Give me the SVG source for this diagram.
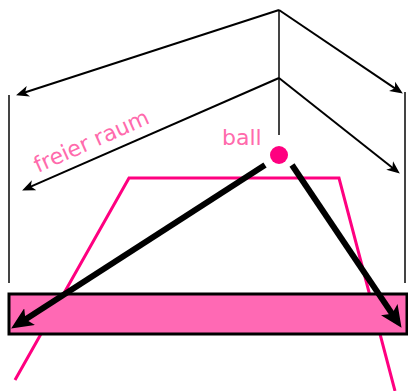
<svg xmlns="http://www.w3.org/2000/svg" width="408" height="391" viewBox="0 0 408 391">
<defs>
<style>
.thin{fill:none;stroke:#000;stroke-width:2;marker-end:url(#ah)}
.thick{fill:none;stroke:#000;stroke-width:6;marker-end:url(#ahb)}
.wall{fill:none;stroke:#444;stroke-width:2}
.pink{fill:none;stroke:#ff0080;stroke-width:3}
.lbl{font-family:"DejaVu Sans",Verdana,sans-serif;font-size:22px;fill:#ff6aac}
</style>
<marker id="ah" viewBox="0 -6 13 12" markerWidth="13" markerHeight="12" refX="8" refY="0" orient="auto" markerUnits="userSpaceOnUse">
<path d="M0,-5.5 L13,0 L0,5.5 L3.5,0 z" fill="#000"/>
</marker>
<marker id="ahb" viewBox="0 -10 22 20" markerWidth="22" markerHeight="20" refX="13" refY="0" orient="auto" markerUnits="userSpaceOnUse">
<path d="M0,-10 L22,0 L0,10 L5,0 z" fill="#000"/>
</marker>
</defs>
<g id="walls">
<line class="wall" x1="9" y1="95" x2="9" y2="283"/>
<line class="wall" x1="405" y1="92" x2="405" y2="283"/>
<line class="wall" x1="279" y1="10" x2="279" y2="135"/>
</g>
<g id="field">
<polyline class="pink" points="15,380 129,178 339,178 395,391"/>
</g>
<g id="goal">
<rect x="9" y="294" width="398" height="40" fill="#ff69b4" stroke="#000" stroke-width="3"/>
</g>
<g id="ball">
<circle cx="279" cy="155" r="9" fill="#ff0080"/>
<text class="lbl" x="222" y="145">ball</text>
</g>
<g id="freier-raum">
<text class="lbl" x="38" y="173" transform="rotate(-24 38 173)">freier raum</text>
</g>
<g id="connectors">
<path class="thin" d="M279,10 L20.8,93.8"/>
<path class="thin" d="M279,10 L398.7,90.8"/>
<path class="thin" d="M279,78 L26.7,188.4"/>
<path class="thin" d="M279,78 L395.9,170.5"/>
<path class="thick" d="M265,165 L18.7,323.7"/>
<path class="thick" d="M292,165 L396.5,320.4"/>
</g>
</svg>
